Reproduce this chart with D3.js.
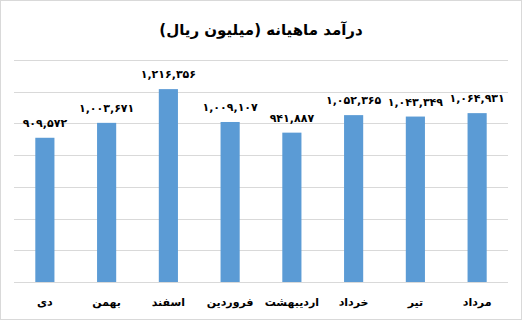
<!DOCTYPE html>
<html>
<head>
<meta charset="utf-8">
<script src="https://cdn.jsdelivr.net/npm/d3@7"></script>
<style>
  html, body { margin: 0; padding: 0; background: #fff; }
  svg { display: block; font-family: "DejaVu Sans", sans-serif; }
</style>
</head>
<body>
<svg id="chart" width="522" height="320"></svg>
<script>
// months, left to right as drawn
const months = ['دی', 'بهمن', 'اسفند', 'فروردین', 'اردیبهشت', 'خرداد', 'تیر', 'مرداد'];
const revenue = [909572, 1003671, 1216356, 1009107, 941887, 1052365, 1043349, 1064931];
const yTicks = [0, 200000, 400000, 600000, 800000, 1000000, 1200000, 1400000];

const title = 'درآمد ماهیانه (میلیون ریال)';

const width = 522, height = 320;
const margin = { top: 60, right: 14, bottom: 38, left: 14 };

const svg = d3.select('#chart');

// outer frame
svg.append('rect')
    .attr('x', 0.5).attr('y', 0.5)
    .attr('width', width - 1).attr('height', height - 1)
    .attr('fill', '#fff')
    .attr('stroke', '#d9d9d9');

const x = d3.scaleBand()
    .domain(months)
    .range([margin.left, width - margin.right])
    .paddingInner(0.69)
    .paddingOuter(0.345);

const y = d3.scaleLinear()
    .domain([0, 1400000])
    .range([height - margin.bottom, margin.top]);

// persian digits
const faDigits = '۰۱۲۳۴۵۶۷۸۹';
const toFa = s => s.replace(/\d/g, d => faDigits[+d]);
const fmt = v => toFa(d3.format(',')(v));

// gridlines
svg.append('g')
    .attr('class', 'grid')
    .attr('transform', `translate(${margin.left},0)`)
    .call(d3.axisLeft(y).tickValues(yTicks).tickSize(-(width - margin.left - margin.right)).tickFormat(''))
    .call(g => g.select('.domain').remove())
    .call(g => g.selectAll('.tick line').attr('stroke', '#d9d9d9').attr('shape-rendering', 'crispEdges'));

// bars
svg.append('g')
    .selectAll('rect')
    .data(revenue)
    .join('rect')
    .attr('x', (d, i) => x(months[i]))
    .attr('y', d => y(d))
    .attr('width', x.bandwidth())
    .attr('height', d => y(0) - y(d))
    .attr('fill', '#5b9bd5');

// value labels
svg.append('g')
    .selectAll('text')
    .data(revenue)
    .join('text')
    .attr('x', (d, i) => x(months[i]) + x.bandwidth() / 2)
    .attr('y', d => y(d) - 11)
    .attr('text-anchor', 'middle')
    .attr('font-size', 11)
    .attr('font-weight', 'bold')
    .attr('fill', '#000')
    .text(d => fmt(d));

// category axis
svg.append('g')
    .attr('transform', `translate(0,${height - margin.bottom})`)
    .call(d3.axisBottom(x).tickSize(0).tickPadding(16))
    .call(g => g.select('.domain').remove())
    .call(g => g.selectAll('text')
        .attr('font-size', 11)
        .attr('font-weight', 'bold')
        .attr('fill', '#000')
        .attr('font-family', '"DejaVu Sans", sans-serif'));

// title
svg.append('text')
    .attr('x', width / 2)
    .attr('y', 35)
    .attr('text-anchor', 'middle')
    .attr('direction', 'rtl')
    .attr('font-size', 15)
    .attr('font-weight', 'bold')
    .attr('fill', '#000')
    .text(title);
</script>
</body>
</html>
